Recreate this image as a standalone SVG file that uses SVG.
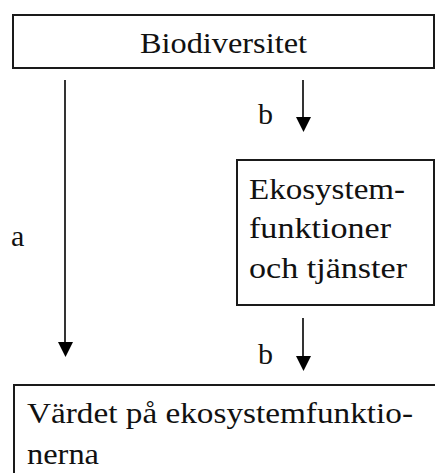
<svg xmlns="http://www.w3.org/2000/svg" width="435" height="473" viewBox="0 0 435 473">
<style>
.box{fill:#fff;stroke:#1a1a1a;stroke-width:2}
.t{font-family:"Liberation Serif","Times New Roman",serif;font-size:30px;fill:#111}
.c{stroke:#000;stroke-width:1.6;fill:none}
.h{fill:#000}
</style>
<rect width="435" height="473" fill="#fff"/>
<g id="biodiversitet">
<rect class="box" x="13" y="15" width="421" height="53"/>
<text class="t" x="140" y="53" textLength="167" lengthAdjust="spacingAndGlyphs">Biodiversitet</text>
</g>
<g id="ekosystemfunktioner">
<rect class="box" x="237" y="160" width="197" height="145"/>
<text class="t" x="249" y="199" textLength="156" lengthAdjust="spacingAndGlyphs">Ekosystem-</text>
<text class="t" x="249" y="238" textLength="142" lengthAdjust="spacingAndGlyphs">funktioner</text>
<text class="t" x="249" y="278" textLength="158" lengthAdjust="spacingAndGlyphs">och tjänster</text>
</g>
<g id="vardet">
<rect class="box" x="14" y="385" width="430" height="100"/>
<text class="t" x="27" y="423" textLength="386" lengthAdjust="spacingAndGlyphs">Värdet på ekosystemfunktio-</text>
<text class="t" x="27" y="464" textLength="72" lengthAdjust="spacingAndGlyphs">nerna</text>
</g>
<g id="connectors">
<line class="c" x1="65" y1="80" x2="65" y2="344"/>
<polygon class="h" points="58,342 73,342 65.5,357"/>
<text class="t" x="11" y="246">a</text>
<line class="c" x1="303" y1="80" x2="303" y2="119"/>
<polygon class="h" points="296,117 311,117 303.5,132"/>
<text class="t" x="258" y="124">b</text>
<line class="c" x1="303" y1="318" x2="303" y2="358"/>
<polygon class="h" points="296,356 311,356 303.5,371"/>
<text class="t" x="258" y="364">b</text>
</g>
</svg>
